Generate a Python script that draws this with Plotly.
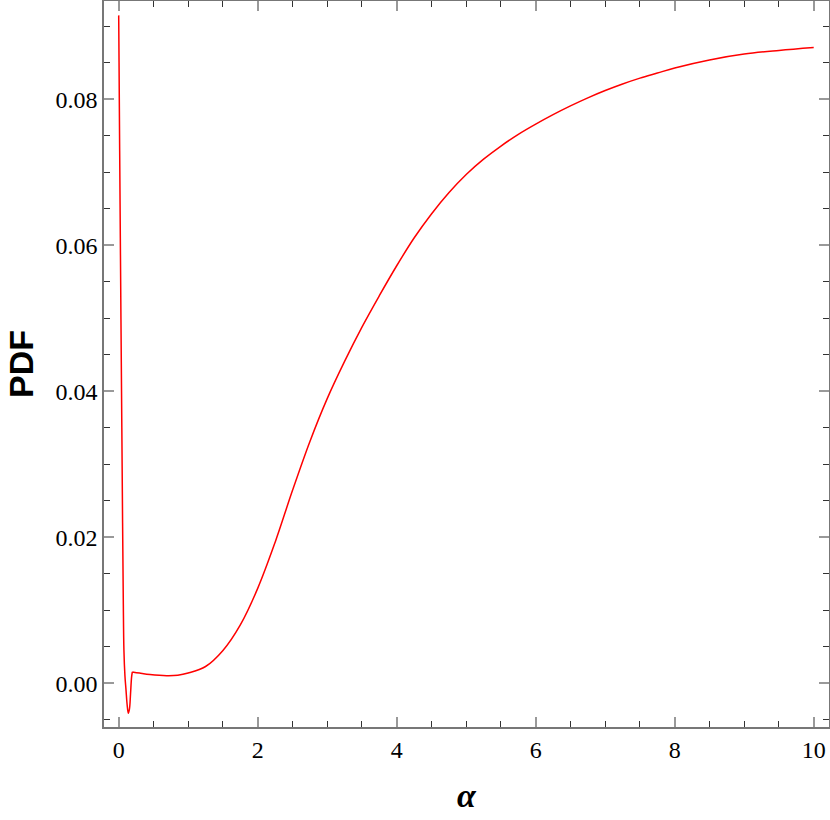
"""PDF of alpha"""
from plotly.graph_objects import Scatter, Figure

# valeurs lues sur le graphe
# branche gauche (chute, minimum, saut)
alpha_a = [0, 0.005, 0.014, 0.03, 0.045, 0.056, 0.066, 0.075, 0.09, 0.105,
           0.12, 0.138, 0.155, 0.17, 0.185, 0.196]
pdf_a = [0.0915, 0.085, 0.073, 0.053, 0.035, 0.022, 0.0114, 0.0046, 0.0010, -0.0009,
         -0.0028, -0.0041, -0.0035, -0.0015, 0.0008, 0.00155]
# branche droite (plateau puis montée)
alpha_b = [0.196, 0.3, 0.45, 0.69, 0.85, 1.0, 1.25, 1.5, 1.75, 2.0,
           2.25, 2.5, 2.75, 3.0, 3.25, 3.5, 3.75, 4.0, 4.25, 4.5,
           4.75, 5.0, 5.25, 5.5, 5.75, 6.0, 6.25, 6.5, 6.75, 7.0,
           7.25, 7.5, 7.75, 8.0, 8.5, 9.0, 9.5, 10.0]
pdf_b = [0.00155, 0.0014, 0.0012, 0.00104, 0.0011, 0.0014, 0.0023, 0.0045, 0.0080, 0.0130,
         0.0193, 0.0264, 0.0331, 0.0390, 0.0441, 0.0488, 0.0531, 0.0572, 0.0610, 0.0643,
         0.0672, 0.0697, 0.0718, 0.0736, 0.0752, 0.0766, 0.0779, 0.0791, 0.0802, 0.0812,
         0.0821, 0.0829, 0.0836, 0.0843, 0.0854, 0.0862, 0.0867, 0.0871]

x_ticks = [0, 2, 4, 6, 8, 10]
y_ticks = [0.0, 0.02, 0.04, 0.06, 0.08]
y_labels = ["0.00", "0.02", "0.04", "0.06", "0.08"]

SERIF = "Liberation Serif"
axis_common = dict(
    showline=True, linecolor="#777", linewidth=1.5, mirror="allticks",
    ticks="inside", ticklen=10, tickwidth=1.5, tickcolor="#999",
    showgrid=False, zeroline=False,
    tickfont=dict(family=SERIF, size=24, color="black"),
)

fig = Figure()
for xs, ys in ((alpha_a, pdf_a), (alpha_b, pdf_b)):
    fig.add_trace(Scatter(x=xs, y=ys, mode="lines",
                          line=dict(color="red", width=1.5, shape="spline",
                                    smoothing=1.0)))

fig.update_layout(
    width=830, height=820,
    margin=dict(l=104, r=1, t=1, b=93),
    plot_bgcolor="white", paper_bgcolor="white",
    showlegend=False,
    xaxis=dict(axis_common, range=[-0.2115, 10.22], tickvals=x_ticks,
               ticktext=[str(v) for v in x_ticks],
               minor=dict(dtick=0.5, tick0=0, ticks="inside", ticklen=6,
                          tickcolor="#333", tickwidth=1),
               title=dict(text="<b><i>α</i></b>", standoff=22,
                          font=dict(family=SERIF, size=34, color="black"))),
    yaxis=dict(axis_common, range=[-0.00599, 0.09347], tickvals=y_ticks,
               ticktext=y_labels,
               minor=dict(dtick=0.005, tick0=0, ticks="inside", ticklen=6,
                          tickcolor="#333", tickwidth=1),
               title=dict(text="<b>PDF</b>", standoff=12,
                          font=dict(family="Liberation Sans", size=34,
                                    color="black"))),
)
fig.update_xaxes(automargin=False)
fig.update_yaxes(automargin=False)

fig.write_html("out.html", config={"displayModeBar": False},
               post_script="document.body.style.margin='0';")
